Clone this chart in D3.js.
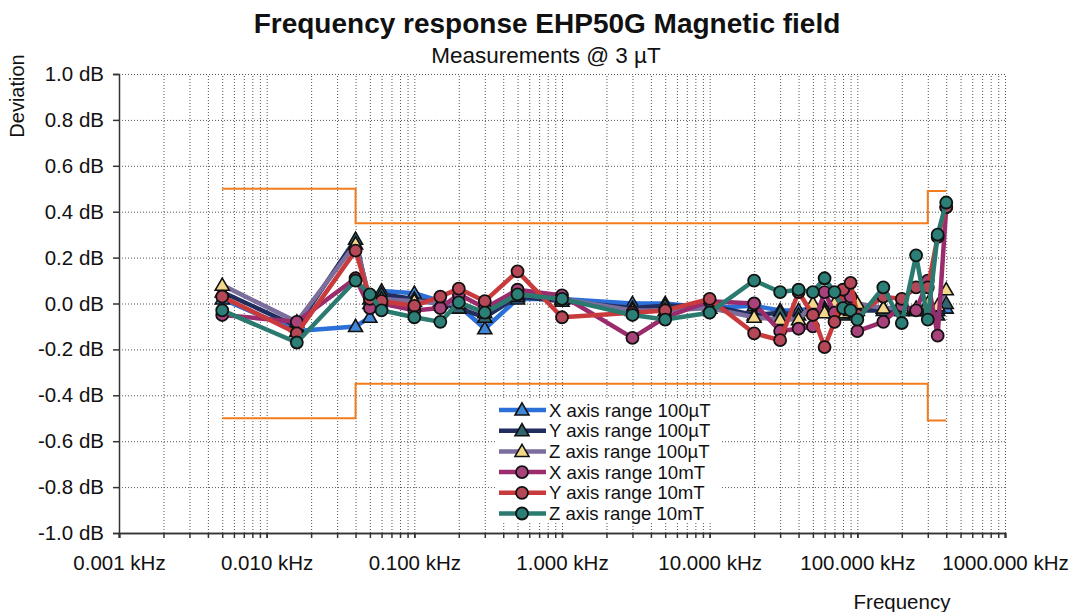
<!DOCTYPE html>
<html>
<head>
<meta charset="utf-8">
<script src="https://cdn.jsdelivr.net/npm/d3@7"></script>
<style>
body { margin: 0; background: #fff; }
text { font-family: "Liberation Sans", Arial, sans-serif; fill: #111; }
</style>
</head>
<body>
<div id="container"></div>
<script>
var width = 1078, height = 612;

// frequencies in kHz
var freqs = [0.005, 0.016, 0.04, 0.05, 0.06, 0.1, 0.15, 0.2, 0.3, 0.5, 1, 3, 5, 10, 20, 30, 40, 50, 60, 70, 80, 90, 100, 150, 200, 250, 300, 350, 400];

var x100uT = [0.02, -0.12, -0.10, -0.06, 0.055, 0.045, 0.01, -0.01, -0.11, 0.02, 0.02, 0.0, 0.0, -0.02, -0.01, -0.03, -0.03, -0.02, -0.02, -0.03, -0.02, -0.02, -0.02, -0.02, -0.03, -0.03, -0.03, -0.03, -0.02];
var y100uT = [0.05, -0.10, 0.28, 0.0, 0.04, 0.02, 0.0, -0.02, -0.06, 0.03, 0.01, -0.02, -0.01, -0.01, -0.05, -0.04, -0.05, -0.03, -0.03, -0.04, -0.05, -0.04, -0.03, -0.03, -0.03, -0.03, -0.03, -0.05, 0.0];
var z100uT = [0.08, -0.08, 0.26, 0.02, 0.02, 0.01, 0.0, 0.0, -0.04, 0.04, 0.02, -0.03, -0.03, -0.02, -0.06, -0.07, -0.07, 0.0, -0.04, 0.0, -0.04, -0.03, 0.0, -0.02, -0.02, -0.02, 0.0, -0.01, 0.06];
var x10mT = [-0.05, -0.08, 0.11, -0.02, 0.0, -0.03, -0.02, 0.04, -0.02, 0.06, 0.035, -0.15, -0.06, 0.01, 0.0, -0.12, -0.11, -0.10, 0.05, -0.04, 0.03, 0.03, -0.12, -0.08, -0.01, -0.03, 0.10, -0.14, 0.42];
var y10mT = [0.03, -0.13, 0.23, 0.02, 0.01, -0.01, 0.03, 0.065, 0.01, 0.14, -0.06, -0.04, -0.03, 0.02, -0.13, -0.16, 0.05, -0.05, -0.19, -0.08, 0.06, 0.09, -0.05, 0.03, 0.02, 0.07, 0.07, 0.29, 0.42];
var z10mT = [-0.03, -0.17, 0.10, 0.04, -0.03, -0.06, -0.08, 0.005, -0.04, 0.04, 0.02, -0.05, -0.07, -0.04, 0.10, 0.05, 0.06, 0.05, 0.11, 0.05, -0.02, -0.03, -0.07, 0.07, -0.085, 0.21, -0.07, 0.30, 0.44];

// tolerance limits (step lines)
var limitFreqs = [0.005, 0.04, 0.04, 300, 300, 400];
var upperLimit = [0.5, 0.5, 0.35, 0.35, 0.49, 0.49];
var lowerLimit = [-0.5, -0.5, -0.35, -0.35, -0.51, -0.51];

var seriesNames = ["X axis range 100\u00b5T", "Y axis range 100\u00b5T", "Z axis range 100\u00b5T",
	"X axis range 10mT", "Y axis range 10mT", "Z axis range 10mT"];
var xTicks = [0.001, 0.01, 0.1, 1, 10, 100, 1000];
var yTicks = [-1.0, -0.8, -0.6, -0.4, -0.2, 0.0, 0.2, 0.4, 0.6, 0.8, 1.0];

var styles = [
	{line: "#2b6fd8", fill: "#3f86d6", shape: "tri"},
	{line: "#212d5e", fill: "#2f6470", shape: "tri"},
	{line: "#7b6d9c", fill: "#f3d88c", shape: "tri"},
	{line: "#9a2c6e", fill: "#a8427a", shape: "circ"},
	{line: "#c93a3c", fill: "#b54757", shape: "circ"},
	{line: "#2b7a70", fill: "#2c7f77", shape: "circ"}
];
var seriesValues = [x100uT, y100uT, z100uT, x10mT, y10mT, z10mT];

var xScale = d3.scaleLog().domain([0.001, 1000]).range([119, 1005]);
var yScale = d3.scaleLinear().domain([-1, 1]).range([533, 74]);

var minors = [];
xTicks.forEach(function(t, i){
	if (i < xTicks.length - 1) for (var k = 1; k < 10; k++) minors.push(t * k);
});
minors.push(1000);

function drawMarker(g, shape, x, y, fill) {
	if (shape == "tri") {
		g.append('path')
			.attr('d', d3.symbol().type(d3.symbolTriangle).size(85)())
			.attr('transform', 'translate(' + x + ',' + (y + 1) + ')')
			.attr('fill', fill).attr('stroke', '#111').attr('stroke-width', 1.6);
	} else {
		g.append('circle').attr('cx', x).attr('cy', y).attr('r', 6)
			.attr('fill', fill).attr('stroke', '#111').attr('stroke-width', 1.8);
	}
}

function visualize() {
	var svg = d3.select('#container').append('svg')
		.attr('width', width).attr('height', height);

	// grid
	svg.append('g').attr('class', 'grid')
		.attr('transform', 'translate(0,533)')
		.call(d3.axisBottom(xScale).tickValues(minors).tickSize(-459).tickFormat(''))
		.call(function(g){ g.select('.domain').remove(); })
		.selectAll('line').attr('stroke', '#555').attr('stroke-dasharray', '1,2');
	svg.append('g')
		.attr('transform', 'translate(119,0)')
		.call(d3.axisLeft(yScale).tickValues(yTicks).tickSize(-886).tickFormat(''))
		.call(function(g){ g.select('.domain').remove(); })
		.selectAll('line').attr('stroke', '#555').attr('stroke-dasharray', '1,2');

	// axes
	var yAxis = svg.append('g')
		.attr('transform', 'translate(119,0)')
		.call(d3.axisLeft(yScale).tickValues(yTicks).tickSize(6).tickPadding(9)
			.tickFormat(function(d){ return d.toFixed(1) + ' dB'; }));
	yAxis.selectAll('text').style('font-size', '20.5px');
	yAxis.selectAll('line, path').attr('stroke', '#333').attr('stroke-width', 1.5);

	var xMinor = svg.append('g')
		.attr('transform', 'translate(0,533)')
		.call(d3.axisBottom(xScale).tickValues(minors).tickSize(5).tickFormat(''));
	xMinor.selectAll('line, path').attr('stroke', '#333').attr('stroke-width', 1.5);
	var xAxis = svg.append('g')
		.attr('transform', 'translate(0,533)')
		.call(d3.axisBottom(xScale).tickValues(xTicks).tickSize(5).tickPadding(17)
			.tickFormat(function(d){ return d.toFixed(3) + ' kHz'; }));
	xAxis.selectAll('text').style('font-size', '20.5px');
	xAxis.selectAll('line, path').attr('stroke', '#333').attr('stroke-width', 1.5);

	// limits
	var limLine = d3.line()
		.x(function(d){ return xScale(d[0]); })
		.y(function(d){ return yScale(d[1]); });
	[upperLimit, lowerLimit].forEach(function(lim){
		svg.append('path')
			.attr('d', limLine(limitFreqs.map(function(f, i){ return [f, lim[i]]; })))
			.attr('fill', 'none').attr('stroke', '#f27c1e').attr('stroke-width', 2);
	});

	// series
	var line = d3.line()
		.x(function(d){ return xScale(d.f); })
		.y(function(d){ return yScale(d.v); });
	seriesValues.forEach(function(vals, s){
		var pts = freqs.map(function(f, i){ return {f: f, v: vals[i]}; });
		var g = svg.append('g');
		g.append('path').attr('d', line(pts))
			.attr('fill', 'none').attr('stroke', styles[s].line)
			.attr('stroke-width', 4.5).attr('stroke-linejoin', 'round');
		pts.forEach(function(p){
			drawMarker(g, styles[s].shape, xScale(p.f), yScale(p.v), styles[s].fill);
		});
	});

	// legend
	var lg = svg.append('g').attr('transform', 'translate(496,398)');
	lg.append('rect').attr('width', 226).attr('height', 125).attr('fill', '#fff');
	seriesNames.forEach(function(name, i){
		var y = 12 + i * 20.7;
		lg.append('line').attr('x1', 3).attr('x2', 50).attr('y1', y).attr('y2', y)
			.attr('stroke', styles[i].line).attr('stroke-width', 4.5);
		drawMarker(lg, styles[i].shape, 26, y, styles[i].fill);
		lg.append('text').attr('x', 53).attr('y', y + 6.5).text(name).style('font-size', '18.6px');
	});

	// titles
	svg.append('text').attr('x', 547).attr('y', 33).attr('text-anchor', 'middle')
		.style('font-size', '28px').style('font-weight', 'bold')
		.text('Frequency response EHP50G Magnetic field');
	svg.append('text').attr('x', 546).attr('y', 63).attr('text-anchor', 'middle')
		.style('font-size', '22.5px').text('Measurements @ 3 \u00b5T');
	svg.append('text').attr('transform', 'translate(24,96) rotate(-90)')
		.attr('text-anchor', 'middle').style('font-size', '20px').text('Deviation');
	svg.append('text').attr('x', 902).attr('y', 609).attr('text-anchor', 'middle')
		.style('font-size', '20.5px').text('Frequency');
}

window.onload = visualize;
</script>
</body>
</html>
